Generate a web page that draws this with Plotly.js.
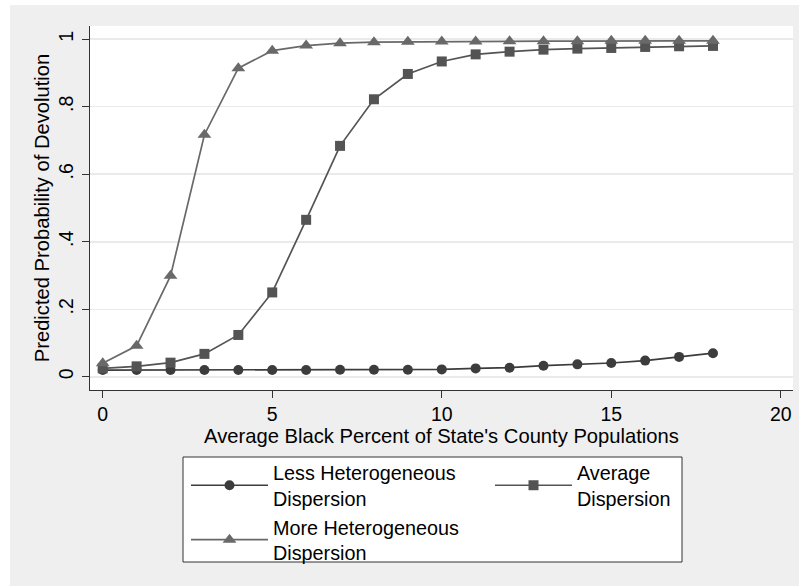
<!DOCTYPE html>
<html>
<head>
<meta charset="utf-8">
<script src="https://cdn.plot.ly/plotly-3.0.1.min.js"></script>
<style>
  html, body { margin: 0; padding: 0; background: #ffffff; }
  #chart { position: absolute; left: 10px; top: 5px; width: 789px; height: 581px; }
</style>
</head>
<body>
<div id="chart"></div>
<script>
// ---- data ----
const xValues = [0, 1, 2, 3, 4, 5, 6, 7, 8, 9, 10, 11, 12, 13, 14, 15, 16, 17, 18];
const lessHetero = [0.020, 0.020, 0.020, 0.020, 0.020, 0.020, 0.020, 0.021, 0.021, 0.021, 0.022, 0.025, 0.027, 0.033, 0.037, 0.041, 0.048, 0.059, 0.070];
const averageDisp = [0.025, 0.031, 0.042, 0.068, 0.124, 0.250, 0.465, 0.684, 0.822, 0.897, 0.934, 0.955, 0.963, 0.969, 0.972, 0.974, 0.977, 0.979, 0.980];
const moreHetero = [0.040, 0.092, 0.299, 0.717, 0.914, 0.966, 0.981, 0.988, 0.991, 0.992, 0.993, 0.993, 0.994, 0.994, 0.994, 0.995, 0.995, 0.995, 0.995];
const seriesNames = ["Less Heterogeneous<br>Dispersion", "Average<br>Dispersion", "More Heterogeneous<br>Dispersion"];
const xTickVals = [0, 5, 10, 15, 20];
const xTickText = ["0", "5", "10", "15", "20"];
const yTickVals = [0, 0.2, 0.4, 0.6, 0.8, 1];
const yTickText = ["0", ".2", ".4", ".6", ".8", "1"];
const xTitle = "Average Black Percent of State's County Populations";
const yTitle = "Predicted Probability of Devolution";

const FONT = "Liberation Sans, Arial, Helvetica, sans-serif";
const FS_TICK = 19.5;
const FS_TITLE = 20.2;
const FS_LEG = 19.8;

const traces = [
  {
    x: xValues, y: lessHetero, name: seriesNames[0], type: "scatter", mode: "lines+markers",
    line: { color: "#3c3c3c", width: 1.7 },
    marker: { symbol: "circle", size: 10, color: "#3c3c3c" },
    legend: "legend"
  },
  {
    x: xValues, y: averageDisp, name: seriesNames[1], type: "scatter", mode: "lines+markers",
    line: { color: "#545454", width: 1.7 },
    marker: { symbol: "square", size: 10, color: "#545454" },
    legend: "legend2"
  },
  {
    x: xValues, y: moreHetero, name: seriesNames[2], type: "scatter", mode: "lines+markers",
    line: { color: "#696969", width: 1.7 },
    marker: { symbol: "triangle-up", size: 12, color: "#696969" },
    legend: "legend"
  }
];

const layout = {
  width: 789, height: 581,
  paper_bgcolor: "#efefef",
  plot_bgcolor: "#ffffff",
  margin: { l: 80, r: 6, t: 21, b: 196, autoexpand: false },
  font: { family: FONT, size: FS_TICK, color: "#000000" },
  xaxis: {
    range: [-0.375, 20.36],
    tickvals: xTickVals, ticktext: xTickText,
    ticks: "outside", ticklen: 7, tickwidth: 1, tickcolor: "#333333",
    showline: true, linecolor: "#333333", linewidth: 1,
    showgrid: false, zeroline: false,
    tickfont: { family: FONT, size: FS_TICK, color: "#000000" },
    title: { text: xTitle, font: { family: FONT, size: FS_TITLE, color: "#000000" }, standoff: 0 },
    automargin: false
  },
  yaxis: {
    range: [-0.039, 1.039],
    tickvals: yTickVals, ticktext: yTickText,
    tickangle: -90,
    ticks: "outside", ticklen: 7, tickwidth: 1, tickcolor: "#333333",
    showline: true, linecolor: "#333333", linewidth: 1,
    showgrid: true, gridcolor: "#eaeaea", gridwidth: 1.5,
    zeroline: false,
    ticklabelstandoff: 1,
    ticklabelshift: -2.5,
    tickfont: { family: FONT, size: FS_TICK, color: "#000000" },
    title: { text: yTitle, font: { family: FONT, size: FS_TITLE, color: "#000000" }, standoff: 0 },
    automargin: false
  },
  showlegend: true,
  legend: {
    x: (176 - 80) / 703, y: (385 - 448) / 364, xanchor: "left", yanchor: "top",
    orientation: "v", bgcolor: "rgba(0,0,0,0)", borderwidth: 0,
    itemwidth: 77, tracegroupgap: 0,
    font: { family: FONT, size: FS_LEG, color: "#000000" },
    itemclick: false, itemdoubleclick: false
  },
  legend2: {
    x: (480 - 80) / 703, y: (385 - 448) / 364, xanchor: "left", yanchor: "top",
    orientation: "v", bgcolor: "rgba(0,0,0,0)", borderwidth: 0,
    itemwidth: 77,
    font: { family: FONT, size: FS_LEG, color: "#000000" },
    itemclick: false, itemdoubleclick: false
  },
  shapes: [
    {
      type: "rect", xref: "paper", yref: "paper",
      x0: (173 - 80) / 703, x1: (672 - 80) / 703,
      y0: (385 - 557) / 364, y1: (385 - 452) / 364,
      line: { color: "#333333", width: 1 }, fillcolor: "#ffffff", layer: "below"
    }
  ]
};

Plotly.newPlot("chart", traces, layout, { displayModeBar: false, staticPlot: true });
</script>
</body>
</html>
